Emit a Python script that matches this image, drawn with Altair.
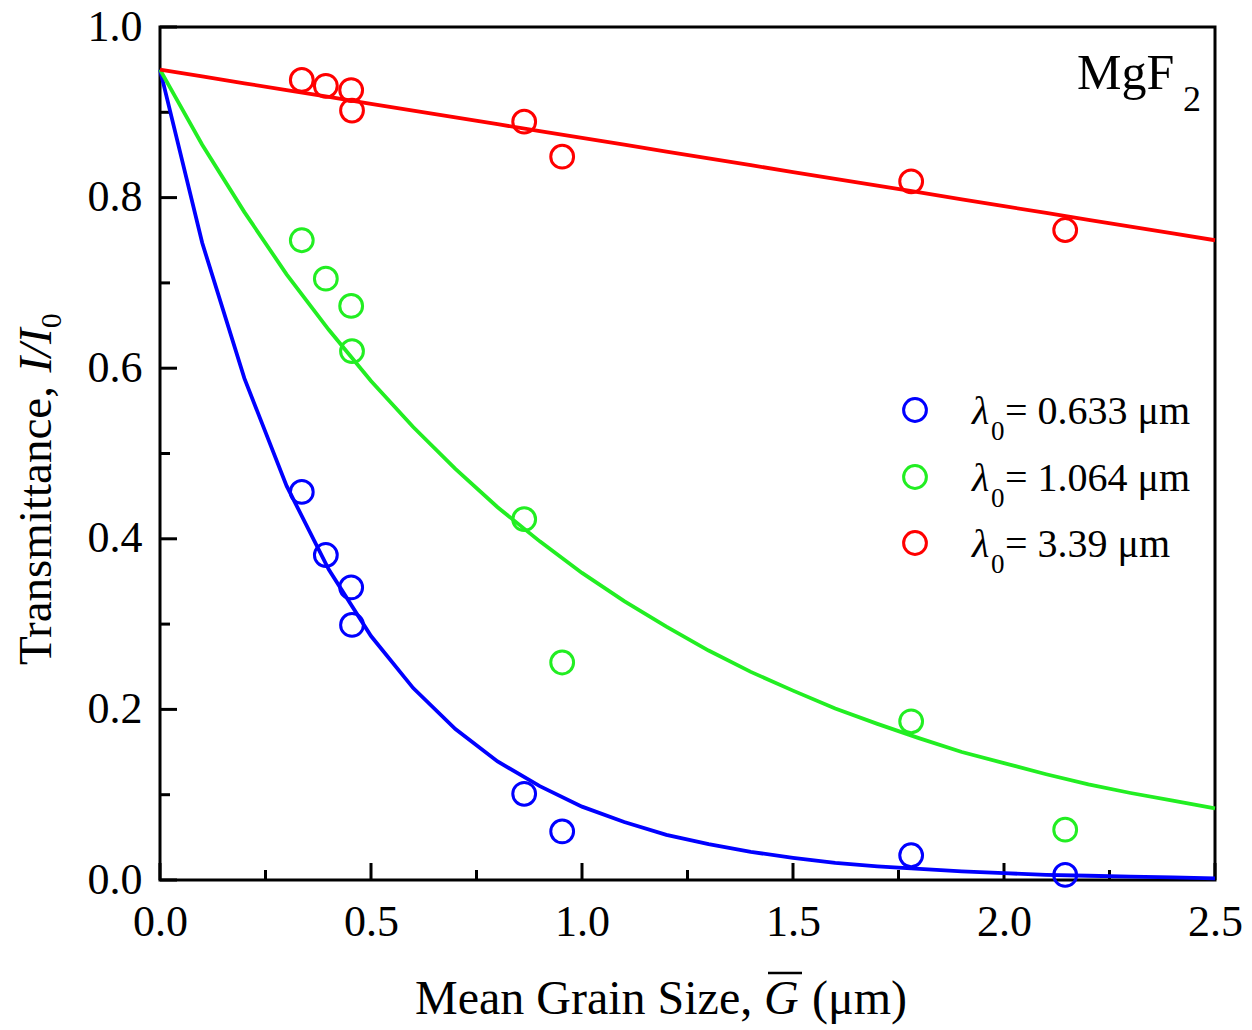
import altair as alt
import pandas as pd

# ---------------- data ----------------
series = ["0.633", "1.064", "3.39"]
colors = ["#0000FF", "#22EE22", "#FF0000"]

g_meas = [0.336, 0.393, 0.453, 0.455, 0.863, 0.953, 1.780, 2.145]
t_meas_633 = [0.455, 0.381, 0.343, 0.299, 0.101, 0.057, 0.029, 0.006]
t_meas_1064 = [0.750, 0.705, 0.673, 0.620, 0.423, 0.255, 0.186, 0.059]
t_meas_339 = [0.938, 0.931, 0.926, 0.902, 0.889, 0.848, 0.819, 0.762]

g_fit = [0.0, 0.1, 0.2, 0.3, 0.4, 0.5, 0.6, 0.7, 0.8, 0.9, 1.0, 1.1, 1.2,
         1.3, 1.4, 1.5, 1.6, 1.7, 1.8, 1.9, 2.0, 2.1, 2.2, 2.3, 2.4, 2.5]
t_fit_633 = [0.950, 0.747, 0.588, 0.462, 0.364, 0.286, 0.225, 0.177, 0.139,
             0.110, 0.086, 0.068, 0.053, 0.042, 0.033, 0.026, 0.020, 0.016,
             0.013, 0.010, 0.008, 0.006, 0.005, 0.004, 0.003, 0.002]
t_fit_1064 = [0.950, 0.862, 0.783, 0.710, 0.645, 0.585, 0.531, 0.482, 0.437,
              0.397, 0.360, 0.327, 0.297, 0.269, 0.244, 0.222, 0.201, 0.183,
              0.166, 0.150, 0.137, 0.124, 0.112, 0.102, 0.093, 0.084]
t_fit_339 = [0.950, 0.942, 0.934, 0.926, 0.918, 0.910, 0.902, 0.894, 0.886,
             0.878, 0.870, 0.862, 0.854, 0.846, 0.838, 0.830, 0.822, 0.814,
             0.806, 0.798, 0.790, 0.782, 0.774, 0.766, 0.758, 0.750]

x_major = [0.0, 0.5, 1.0, 1.5, 2.0, 2.5]
x_minor = [0.25, 0.75, 1.25, 1.75, 2.25]
y_major = [0.0, 0.2, 0.4, 0.6, 0.8, 1.0]
y_minor = [0.1, 0.3, 0.5, 0.7, 0.9]

# ---------------- tables ----------------
meas_df = pd.DataFrame({
    "g": g_meas * 3,
    "t": t_meas_633 + t_meas_1064 + t_meas_339,
    "s": [series[0]] * len(g_meas) + [series[1]] * len(g_meas) + [series[2]] * len(g_meas),
})
fit_df = pd.DataFrame({
    "g": g_fit * 3,
    "t": t_fit_633 + t_fit_1064 + t_fit_339,
    "s": [series[0]] * len(g_fit) + [series[1]] * len(g_fit) + [series[2]] * len(g_fit),
})

W, H = 1055, 853
FONT = "Liberation Serif"

x_scale = alt.Scale(domain=[0, 2.5], nice=False, zero=False)
y_scale = alt.Scale(domain=[0, 1], nice=False, zero=False)
x_axis = alt.Axis(values=x_major, format=".1f", title=None, ticks=False, domain=False,
                  grid=False, labelFont=FONT, labelFontSize=44, labelPadding=20,
                  labelFlush=False, labelColor="black")
y_axis = alt.Axis(values=y_major, format=".1f", title=None, ticks=False, domain=False,
                  grid=False, labelFont=FONT, labelFontSize=44, labelPadding=18,
                  labelColor="black")

def X(f):
    return alt.X(f + ":Q", scale=x_scale, axis=x_axis)

def Y(f):
    return alt.Y(f + ":Q", scale=y_scale, axis=y_axis)

color = alt.Color("s:N", scale=alt.Scale(domain=series, range=colors), legend=None)

lines = alt.Chart(fit_df).mark_line(strokeWidth=3.8).encode(x=X("g"), y=Y("t"), color=color)
points = alt.Chart(meas_df).mark_point(filled=False, size=520, strokeWidth=3, opacity=1).encode(
    x=X("g"), y=Y("t"), color=color)

def xticks(vals, length):
    return alt.Chart(pd.DataFrame({"v": vals})).mark_rule(color="black", strokeWidth=3).encode(
        x=X("v"), y=alt.value(H), y2=alt.value(H - length))

def yticks(vals, length):
    return alt.Chart(pd.DataFrame({"v": vals})).mark_rule(color="black", strokeWidth=3).encode(
        y=Y("v"), x=alt.value(0), x2=alt.value(length))

def txt(s, x, y, size, italic=False, angle=0, align="left"):
    return alt.Chart(pd.DataFrame({"t": [s]})).mark_text(
        font=FONT, fontSize=size, fontStyle="italic" if italic else "normal",
        align=align, baseline="alphabetic", angle=angle, color="black"
    ).encode(x=alt.value(x), y=alt.value(y), text="t:N")

layers = [xticks(x_major, 17), xticks(x_minor, 10), yticks(y_major, 17), yticks(y_minor, 10),
          lines, points]

# MgF2 label
layers += [txt("MgF", 917, 62, 50), txt("2", 1023, 84, 36)]

# legend
leg_rows = [383, 450, 516]
for s, c, yy in zip(series, colors, leg_rows):
    layers.append(alt.Chart(pd.DataFrame({"s": [s]})).mark_point(
        filled=False, size=520, strokeWidth=3, opacity=1, color=c
    ).encode(x=alt.value(755), y=alt.value(yy)))
    base = yy + 13.5
    layers += [txt("λ", 812, base, 40, italic=True),
               txt("0", 831, base + 16, 27),
               txt("= " + s + " μm", 845, base, 40)]

# x title
layers += [txt("Mean Grain Size,", 255, 987, 48),
           txt("G", 604, 987, 48, italic=True),
           txt("(μm)", 652, 987, 48)]
layers.append(alt.Chart(pd.DataFrame({"v": [0]})).mark_rule(color="black", strokeWidth=2.5).encode(
    x=alt.value(608), x2=alt.value(642), y=alt.value(946)))

# y title (rotated)
layers += [txt("Transmittance,", -109, 638, 47, angle=270),
           txt("I/I", -109, 345.6, 47, italic=True, angle=270),
           txt("0", -99, 301.2, 30, angle=270)]

chart = alt.layer(*layers).properties(
    width=W, height=H,
    autosize=alt.AutoSizeParams(type="none"),
    padding={"left": 160, "top": 27, "right": 37, "bottom": 150},
).configure_view(stroke="black", strokeWidth=3)

chart.save("out.html", embed_options={"renderer": "svg", "actions": False})
